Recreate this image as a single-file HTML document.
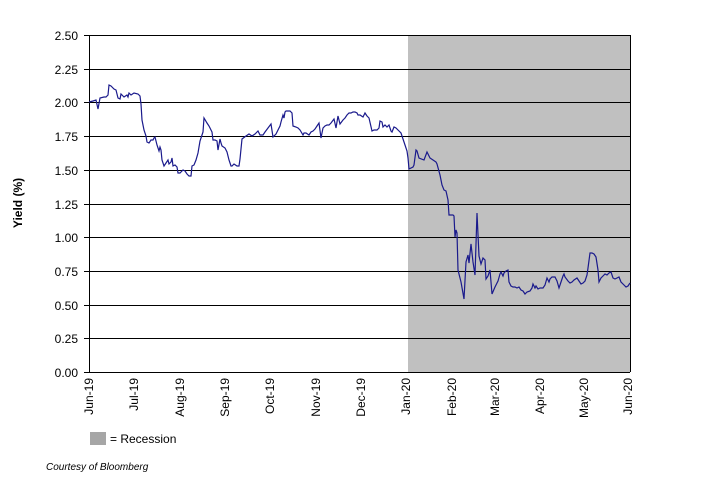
<!DOCTYPE html>
<html><head><meta charset="utf-8"><style>
body{margin:0;background:#fff;}
svg{display:block;font-family:"Liberation Sans",Arial,sans-serif;}
</style></head><body>
<svg width="709" height="503" viewBox="0 0 709 503">
<rect x="408" y="35" width="222" height="337" fill="#c0c0c0"/>
<g stroke="#000" stroke-width="1">
<line x1="89" y1="35.5" x2="630" y2="35.5"/>
<line x1="89" y1="69.5" x2="630" y2="69.5"/>
<line x1="89" y1="102.5" x2="630" y2="102.5"/>
<line x1="89" y1="136.5" x2="630" y2="136.5"/>
<line x1="89" y1="170.5" x2="630" y2="170.5"/>
<line x1="89" y1="204.5" x2="630" y2="204.5"/>
<line x1="89" y1="237.5" x2="630" y2="237.5"/>
<line x1="89" y1="271.5" x2="630" y2="271.5"/>
<line x1="89" y1="305.5" x2="630" y2="305.5"/>
<line x1="89" y1="338.5" x2="630" y2="338.5"/>
<line x1="89" y1="372.5" x2="630" y2="372.5"/>
<line x1="89.5" y1="35" x2="89.5" y2="372"/>
<line x1="630.5" y1="35" x2="630.5" y2="372"/>
</g>
<g stroke="#000"><line x1="84" y1="35.5" x2="89" y2="35.5"/><line x1="84" y1="69.5" x2="89" y2="69.5"/><line x1="84" y1="102.5" x2="89" y2="102.5"/><line x1="84" y1="136.5" x2="89" y2="136.5"/><line x1="84" y1="170.5" x2="89" y2="170.5"/><line x1="84" y1="204.5" x2="89" y2="204.5"/><line x1="84" y1="237.5" x2="89" y2="237.5"/><line x1="84" y1="271.5" x2="89" y2="271.5"/><line x1="84" y1="305.5" x2="89" y2="305.5"/><line x1="84" y1="338.5" x2="89" y2="338.5"/><line x1="84" y1="372.5" x2="89" y2="372.5"/></g>
<polyline fill="none" stroke="#1a1a8c" stroke-width="1.2" points="89,102 93,101 96,100 98,109 100,98 104,97 106,97 108,95 109,85 111,86 114,89 116,90 118,98 120,99 121,94 124,97 127,95 128,97 129,93 131,95 134,93 138,94 140,96 141,104 142,120 144,130 146,136 147,142 149,143 151,140 153,140 154,138 155,137 157,145 159,151 160,147 161,150 162,160 164,166 166,163 168,160 169,164 171,162 172,158 173,166 175,165 177,167 178,173 180,173 181,172 183,170 185,171 187,174 189,176 191,176 192,166 194,165 196,160 198,153 200,141 202,135 203,132 204,118 207,123 209,126 211,130 212,132 213,140 215,140 217,141 218,150 220,139 221,143 222,146 225,148 227,152 229,160 231,166 232,166 234,164 237,166 239,166 240,159 242,139 246,136 249,134 252,136 255,134 258,131 260,135 263,135 265,132 268,128 271,124 273,137 276,134 278,130 280,126 281,122 283,115 284,118 285,112 286,111 290,111 292,113 293,126 296,127 298,128 300,130 303,135 304,133 306,133 309,135 311,132 313,131 315,129 317,126 319,123 321,138 323,128 325,126 327,125 329,125 331,123 334,119 336,128 338,116 340,124 343,120 345,118 347,115 349,113 351,113 353,112 355,112 357,113 358,115 360,115 363,117 365,113 367,116 369,118 372,131 374,130 377,130 379,128 380,121 382,122 383,127 385,125 387,127 389,125 391,131 392,132 394,127 396,128 398,130 401,133 402,136 405,145 407,151 408,158 409,169 413,167 414,165 416,150 417,151 419,158 424,160 427,152 430,158 433,160 436,162 437,164 440,175 442,185 444,190 446,191 448,200 449,215 453,215 454,216 455,237 456,230 457,233 458,270 461,282 464,299 466,262 468,255 469,263 471,244 473,262 475,275 477,213 479,256 481,264 483,258 485,260 486,279 488,276 490,270 492,294 495,287 497,283 498,281 500,274 501,272 503,276 504,273 506,271 508,270 509,282 511,286 513,287 515,287 517,288 519,287 521,290 523,291 525,294 527,292 530,291 532,288 533,284 535,288 536,286 538,289 540,288 543,288 545,285 547,278 549,282 550,279 552,277 555,277 557,281 559,288 561,282 563,276 564,274 565,277 568,281 570,283 572,282 574,280 577,278 579,281 581,284 583,283 585,281 587,275 588,268 590,253 592,253 594,254 596,257 598,270 599,282 601,278 603,276 605,274 607,275 609,273 611,272 613,278 615,279 617,278 619,277 621,282 624,285 626,287 628,286 630,283"/>
<g font-size="12" text-anchor="end" fill="#000">
<text x="78" y="40">2.50</text><text x="78" y="74">2.25</text><text x="78" y="107">2.00</text><text x="78" y="141">1.75</text><text x="78" y="175">1.50</text><text x="78" y="209">1.25</text><text x="78" y="242">1.00</text><text x="78" y="276">0.75</text><text x="78" y="310">0.50</text><text x="78" y="343">0.25</text><text x="78" y="377">0.00</text>
</g>
<g font-size="12" text-anchor="end" fill="#000">
<text transform="translate(93,378) rotate(-90)">Jun-19</text>
<text transform="translate(138,378) rotate(-90)">Jul-19</text>
<text transform="translate(184,378) rotate(-90)">Aug-19</text>
<text transform="translate(229,378) rotate(-90)">Sep-19</text>
<text transform="translate(274,378) rotate(-90)">Oct-19</text>
<text transform="translate(320,378) rotate(-90)">Nov-19</text>
<text transform="translate(365,378) rotate(-90)">Dec-19</text>
<text transform="translate(410,378) rotate(-90)">Jan-20</text>
<text transform="translate(456,378) rotate(-90)">Feb-20</text>
<text transform="translate(499,378) rotate(-90)">Mar-20</text>
<text transform="translate(544,378) rotate(-90)">Apr-20</text>
<text transform="translate(588,378) rotate(-90)">May-20</text>
<text transform="translate(632,378) rotate(-90)">Jun-20</text>
</g>
<text transform="translate(22,203) rotate(-90)" font-size="12" font-weight="bold" text-anchor="middle">Yield (%)</text>
<rect x="90" y="432" width="16" height="13" fill="#a6a6a6"/>
<text x="110" y="443" font-size="12">= Recession</text>
<text x="46" y="470" font-size="10" font-style="italic">Courtesy of Bloomberg</text>
</svg>
</body></html>
